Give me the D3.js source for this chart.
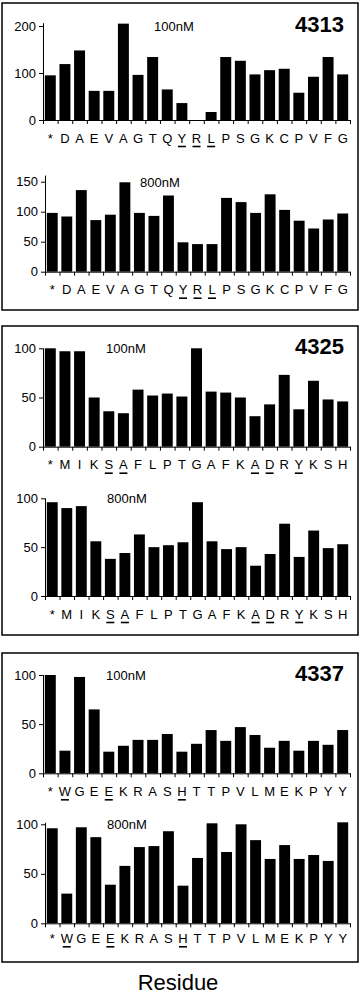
<!DOCTYPE html>
<html>
<head>
<meta charset="utf-8">
<script src="https://cdn.jsdelivr.net/npm/d3@7"></script>
<style>
  html, body { margin: 0; padding: 0; background: #fff; }
  svg { display: block; font-family: Arial, "Liberation Sans", sans-serif; }
  .axis path, .axis line { stroke: #000; stroke-width: 1; }
  .axis text { font-size: 13px; fill: #000; font-family: Arial, "Liberation Sans", sans-serif; }
</style>
</head>
<body>
<svg id="chart" width="360" height="997"></svg>
<script>
"use strict";

// Residues (x categories) for each peptide
const res4313 = ["*", "D", "A", "E", "V", "A", "G", "T", "Q", "Y", "R", "L", "P", "S", "G", "K", "C", "P", "V", "F", "G"];
const res4325 = ["*", "M", "I", "K", "S", "A", "F", "L", "P", "T", "G", "A", "F", "K", "A", "D", "R", "Y", "K", "S", "H"];
const res4337 = ["*", "W", "G", "E", "E", "K", "R", "A", "S", "H", "T", "T", "P", "V", "L", "M", "E", "K", "P", "Y", "Y"];

// underlined residue positions
const under4313 = [9, 10, 11];
const under4325 = [4, 5, 14, 15, 17];
const under4337 = [1, 4, 9];

// series values
const v4313_100 = [95, 119, 148, 62, 62, 205, 96, 134, 65, 36, 0, 17, 134, 126, 97, 106, 109, 58, 92, 134, 97];
const v4313_800 = [98, 92, 136, 86, 95, 149, 98, 93, 127, 49, 46, 46, 123, 116, 98, 129, 103, 85, 72, 87, 97];
const v4325_100 = [100, 97, 97, 50, 36, 34, 58, 52, 54, 51, 100, 56, 55, 50, 31, 43, 73, 38, 67, 48, 46];
const v4325_800 = [96, 90, 92, 56, 38, 44, 63, 50, 52, 55, 96, 56, 48, 50, 31, 43, 74, 40, 67, 49, 53];
const v4337_100 = [100, 23, 98, 65, 22, 28, 34, 34, 40, 22, 30, 44, 33, 47, 39, 26, 33, 23, 33, 29, 44];
const v4337_800 = [96, 30, 97, 87, 39, 58, 77, 78, 93, 38, 66, 101, 72, 100, 84, 65, 79, 65, 69, 63, 102];

const yTicks4313_100 = [0, 100, 200];
const yTicks4313_800 = [0, 50, 100, 150];
const yTicks100 = [0, 50, 100];

const concLabels = ["100nM", "800nM"];
const peptideIds = ["4313", "4325", "4337"];
const xTitle = "Residue";

// layout for each panel
const panels = [
  { id: peptideIds[0], conc: concLabels[0], values: v4313_100, res: res4313, under: under4313, ticks: yTicks4313_100,
    x0: 43, y0: 120, yTopTick: 26, axisMax: 207, labelDy: 18, concX: 154 },
  { id: null, conc: concLabels[1], values: v4313_800, res: res4313, under: under4313, ticks: yTicks4313_800,
    x0: 45, y0: 271.7, yTopTick: 181.7, axisMax: 161, labelDy: 18, concX: 140 },
  { id: peptideIds[1], conc: concLabels[0], values: v4325_100, res: res4325, under: under4325, ticks: yTicks100,
    x0: 43, y0: 446.7, yTopTick: 348.3, axisMax: 100.5, labelDy: 18, concX: 106 },
  { id: null, conc: concLabels[1], values: v4325_800, res: res4325, under: under4325, ticks: yTicks100,
    x0: 45, y0: 596, yTopTick: 498.3, axisMax: 100.5, labelDy: 18, concX: 107 },
  { id: peptideIds[2], conc: concLabels[0], values: v4337_100, res: res4337, under: under4337, ticks: yTicks100,
    x0: 43, y0: 773.3, yTopTick: 675, axisMax: 100.5, labelDy: 18, concX: 106 },
  { id: null, conc: concLabels[1], values: v4337_800, res: res4337, under: under4337, ticks: yTicks100,
    x0: 45, y0: 923.3, yTopTick: 824.3, axisMax: 102, labelDy: 15, concX: 107 }
];

const boxes = [
  { y: 3, h: 307 },
  { y: 326, h: 309 },
  { y: 653, h: 309 }
];

const svg = d3.select("#chart");
const xRight = 350;

// frames round each peptide
svg.append("g")
  .selectAll("rect")
  .data(boxes)
  .enter()
  .append("rect")
  .attr("x", 2)
  .attr("y", d => d.y)
  .attr("width", 356)
  .attr("height", d => d.h)
  .attr("fill", "none")
  .attr("stroke", "#000")
  .attr("stroke-width", 1.5);

panels.forEach(function(p) {
  let n = p.values.length;
  let g = svg.append("g");

  let ppu = (p.y0 - p.yTopTick) / p.ticks[p.ticks.length - 1];
  let y = d3.scaleLinear()
    .domain([0, p.axisMax])
    .range([p.y0, p.y0 - p.axisMax * ppu]);

  let xb = d3.scaleBand()
    .domain(d3.range(n))
    .range([p.x0, xRight])
    .paddingInner(0.25)
    .paddingOuter(0.125);

  let xt = d3.scaleLinear()
    .domain([0, n])
    .range([p.x0, xRight]);

  // bars
  g.append("g")
    .selectAll("rect")
    .data(p.values)
    .enter()
    .append("rect")
    .attr("x", (d, i) => xb(i))
    .attr("y", d => y(d))
    .attr("width", xb.bandwidth())
    .attr("height", d => p.y0 - y(d))
    .attr("fill", "#000");

  // y axis
  g.append("g")
    .attr("class", "axis")
    .attr("transform", "translate(" + p.x0 + ",0)")
    .call(d3.axisLeft(y).tickValues(p.ticks).tickSize(4).tickSizeOuter(0).tickPadding(3));

  // x axis: ticks between bars, labels drawn separately
  g.append("g")
    .attr("class", "axis")
    .attr("transform", "translate(0," + p.y0 + ")")
    .call(d3.axisBottom(xt).tickValues(d3.range(n + 1)).tickFormat("").tickSize(4).tickSizeOuter(0));

  // residue labels
  g.append("g")
    .selectAll("text")
    .data(p.res)
    .enter()
    .append("text")
    .attr("x", (d, i) => xb(i) + xb.bandwidth() / 2)
    .attr("y", p.y0 + p.labelDy + 4.5)
    .attr("text-anchor", "middle")
    .attr("font-size", "13px")
    .text(d => d);

  // underlines
  g.append("g")
    .selectAll("line")
    .data(p.under)
    .enter()
    .append("line")
    .attr("x1", i => xb(i) + xb.bandwidth() / 2 - 4)
    .attr("x2", i => xb(i) + xb.bandwidth() / 2 + 4)
    .attr("y1", p.y0 + p.labelDy + 8.5)
    .attr("y2", p.y0 + p.labelDy + 8.5)
    .attr("stroke", "#000")
    .attr("stroke-width", 1.6);

  // concentration label
  g.append("text")
    .attr("x", p.concX)
    .attr("y", p.yTopTick + 5)
    .attr("font-size", "13px")
    .text(p.conc);

  if (p.id) {
    g.append("text")
      .attr("x", 344)
      .attr("y", p.yTopTick + 6)
      .attr("text-anchor", "end")
      .attr("font-size", "22px")
      .attr("font-weight", "bold")
      .text(p.id);
  }
});

svg.append("text")
  .attr("x", 178)
  .attr("y", 990)
  .attr("text-anchor", "middle")
  .attr("font-size", "22px")
  .text(xTitle);
</script>
</body>
</html>
